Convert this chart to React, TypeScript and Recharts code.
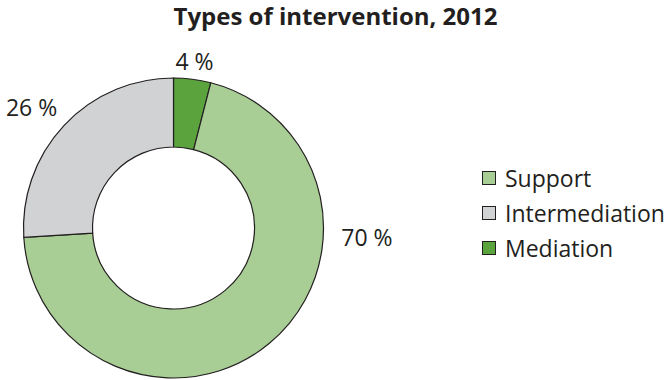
import { PieChart, Pie, Cell, Legend } from 'recharts';

const categories = ['Mediation', 'Support', 'Intermediation'];
const shares = [4, 70, 26];
const legendOrder = ['Support', 'Intermediation', 'Mediation'];
const title = 'Types of intervention, 2012';

const colors: Record<string, string> = {
  Mediation: '#5ba33d',
  Support: '#a8cd95',
  Intermediation: '#d1d2d4',
};

const data = categories.map((name, i) => ({ name, value: shares[i] }));

const RAD = Math.PI / 180;
const ink = '#231f20';
const font = '"Open Sans", sans-serif';

function renderLabel(props: any) {
  const { cx, cy, midAngle, outerRadius, percent, value } = props;
  // 大きいスライスのラベルはリングの右側に置く、横のラベルは少し上へ寄せる
  let angle = percent > 0.5 ? 0 : midAngle;
  const c0 = Math.cos(-midAngle * RAD);
  if (Math.abs(c0) >= 0.3 || percent > 0.5) angle -= 3;
  const r = outerRadius + 18;
  const x = cx + r * Math.cos(-angle * RAD);
  const y = cy + r * Math.sin(-angle * RAD);
  const c = Math.cos(-angle * RAD);
  const anchor = Math.abs(c) < 0.3 ? 'middle' : c > 0 ? 'start' : 'end';
  return (
    <text
      x={x}
      y={y}
      fill={ink}
      textAnchor={anchor}
      dominantBaseline="central"
      fontSize={23}
      fontFamily={font}
    >
      {`${value} %`}
    </text>
  );
}

function renderLegend() {
  return (
    <div style={{ fontFamily: font, fontSize: 23, color: ink }}>
      {legendOrder.map((name) => (
        <div key={name} style={{ display: 'flex', alignItems: 'center', height: 35 }}>
          <span
            style={{
              display: 'inline-block',
              width: 12,
              height: 12,
              background: colors[name],
              border: `1px solid ${ink}`,
              marginRight: 9,
            }}
          />
          <span>{name}</span>
        </div>
      ))}
    </div>
  );
}

export default function App() {
  return (
    <div style={{ position: 'relative', width: 671, height: 380, background: '#fff' }}>
      <style>{`body{margin:0}`}</style>
      <div
        style={{
          position: 'absolute',
          top: 2,
          left: 0,
          width: 671,
          textAlign: 'center',
          fontFamily: font,
          fontWeight: 700,
          fontSize: 24,
          lineHeight: '28px',
          color: ink,
          zIndex: 1,
        }}
      >
        {title}
      </div>
      <PieChart width={671} height={380} margin={{ top: 0, right: 0, bottom: 0, left: 0 }}>
        <Pie
          data={data}
          dataKey="value"
          nameKey="name"
          cx={173.5}
          cy={228}
          innerRadius={81}
          outerRadius={150}
          startAngle={90}
          endAngle={-270}
          stroke={ink}
          strokeWidth={1.2}
          label={renderLabel}
          labelLine={false}
          isAnimationActive={false}
        >
          {data.map((d) => (
            <Cell key={d.name} fill={colors[d.name]} />
          ))}
        </Pie>
        <Legend
          layout="vertical"
          align="right"
          verticalAlign="middle"
          content={renderLegend}
          wrapperStyle={{ left: 482, top: 160, width: 189 }}
        />
      </PieChart>
    </div>
  );
}
